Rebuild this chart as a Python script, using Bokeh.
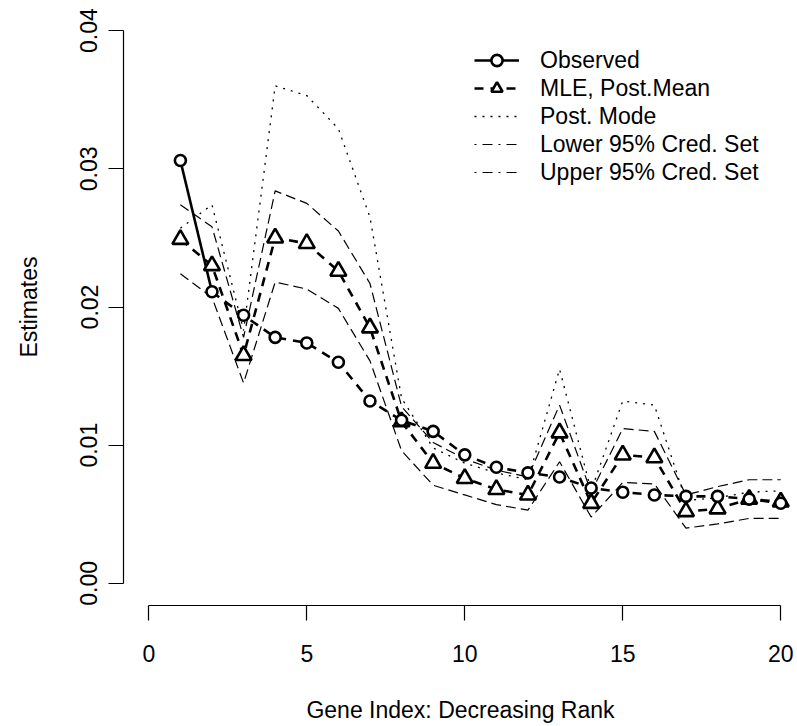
from bokeh.plotting import figure
from bokeh.models import Range1d, LinearAxis, FixedTicker, PrintfTickFormatter, Legend, LegendItem
from bokeh.embed import file_html
from bokeh.resources import INLINE

# ---- data ----
gene_index = list(range(1, 21))
observed = [0.0306, 0.0211, 0.0194, 0.0178, 0.0174, 0.0160, 0.0132, 0.0118, 0.0110, 0.0093,
            0.0084, 0.0080, 0.0077, 0.0069, 0.0066, 0.0064, 0.0063, 0.0063, 0.0061, 0.0058]
mle_post_mean = [0.0249, 0.0230, 0.0165, 0.0250, 0.0246, 0.0226, 0.0185, 0.0117, 0.0087, 0.0076,
                 0.0068, 0.0064, 0.0109, 0.0058, 0.0093, 0.0091, 0.0052, 0.0054, 0.0061, 0.0059]
post_mode = [0.0257, 0.0274, 0.0183, 0.0360, 0.0353, 0.0329, 0.0265, 0.0134, 0.0098, 0.0087,
             0.0080, 0.0075, 0.0155, 0.0067, 0.0132, 0.0129, 0.0060, 0.0062, 0.0066, 0.0067]
upper95 = [0.0274, 0.0258, 0.0178, 0.0284, 0.0275, 0.0255, 0.0217, 0.0128, 0.0102, 0.0090,
           0.0082, 0.0077, 0.0129, 0.0066, 0.0112, 0.0110, 0.0064, 0.0070, 0.0075, 0.0075]
lower95 = [0.0224, 0.0207, 0.0145, 0.0218, 0.0213, 0.0199, 0.0161, 0.0096, 0.0071, 0.0064,
           0.0057, 0.0053, 0.0088, 0.0048, 0.0073, 0.0072, 0.0040, 0.0043, 0.0047, 0.0047]

x_ticks = [0, 5, 10, 15, 20]
y_ticks = [0.00, 0.01, 0.02, 0.03, 0.04]
legend_labels = ["Observed", "MLE, Post.Mean", "Post. Mode", "Lower 95% Cred. Set", "Upper 95% Cred. Set"]

FONT = "Liberation Sans"
FS = "23px"

p = figure(width=797, height=726, output_backend="svg", toolbar_location=None,
           x_range=Range1d(-0.8, 20.53), y_range=Range1d(-0.0016, 0.0416),
           x_axis_type=None, y_axis_type=None,
           min_border_left=123, min_border_right=0, min_border_top=8, min_border_bottom=121)
p.outline_line_color = None
p.background_fill_color = "white"
p.border_fill_color = "white"

def style_axis(ax):
    ax.axis_line_color = "black"
    ax.axis_line_width = 1.2
    ax.major_tick_line_color = "black"
    ax.major_tick_line_width = 1.2
    ax.major_tick_in = 0
    ax.major_tick_out = 15
    ax.minor_tick_line_color = None
    ax.major_label_text_font = FONT
    ax.major_label_text_font_size = FS
    ax.major_label_text_color = "black"
    ax.axis_label_text_font = FONT
    ax.axis_label_text_font_size = FS
    ax.axis_label_text_font_style = "normal"
    ax.axis_label_text_color = "black"

xaxis = LinearAxis(ticker=FixedTicker(ticks=x_ticks), bounds=(0, 20),
                   axis_label="Gene Index: Decreasing Rank")
style_axis(xaxis)
xaxis.major_label_standoff = 24
xaxis.axis_label_standoff = 32
p.add_layout(xaxis, "below")

yaxis = LinearAxis(ticker=FixedTicker(ticks=y_ticks), bounds=(0, 0.04),
                   formatter=PrintfTickFormatter(format="%.2f"), axis_label="Estimates")
style_axis(yaxis)
yaxis.major_label_orientation = "parallel"
yaxis.major_label_standoff = 11
yaxis.axis_label_standoff = 36
p.add_layout(yaxis, "left")

# credible sets (long dash in the plot)
r_low = p.line(gene_index, lower95, line_color="black", line_width=1.2, line_dash="10 5")
r_up = p.line(gene_index, upper95, line_color="black", line_width=1.2, line_dash="10 5")
# posterior mode (dotted)
r_mode = p.line(gene_index, post_mode, line_color="black", line_width=1.3, line_dash="2 6")
# MLE / posterior mean
r_mle_line = p.line(gene_index, mle_post_mean, line_color="black", line_width=2.6, line_dash="9 7")
# observed: solid first segment, dashed afterwards
r_obs_line = p.line(gene_index[:2], observed[:2], line_color="black", line_width=2.6)
p.line(gene_index[1:], observed[1:], line_color="black", line_width=2.6, line_dash="9 7")

r_mle_pts = p.scatter(gene_index, mle_post_mean, marker="triangle", size=16, line_width=2.6,
                      line_color="black", fill_color="white")
r_obs_pts = p.scatter(gene_index, observed, marker="circle", size=11, line_width=2.6,
                      line_color="black", fill_color="white")

# legend samples for the credible sets (dot-dash in the legend); a single-point line draws nothing
leg_low = p.line(gene_index[:1], lower95[:1], line_color="black", line_width=1.2, line_dash="2 6 10 6")
leg_up = p.line(gene_index[:1], upper95[:1], line_color="black", line_width=1.2, line_dash="2 6 10 6")

legend = Legend(items=[
    LegendItem(label=legend_labels[0], renderers=[r_obs_line, r_obs_pts]),
    LegendItem(label=legend_labels[1], renderers=[r_mle_line, r_mle_pts]),
    LegendItem(label=legend_labels[2], renderers=[r_mode]),
    LegendItem(label=legend_labels[3], renderers=[leg_low]),
    LegendItem(label=legend_labels[4], renderers=[leg_up]),
], location=(351, 419))
legend.glyph_width = 45
legend.glyph_height = 28
legend.label_height = 28
legend.spacing = 0
legend.padding = 0
legend.margin = 0
legend.label_standoff = 21
legend.border_line_color = None
legend.background_fill_alpha = 0
legend.label_text_font = FONT
legend.label_text_font_size = FS
legend.label_text_color = "black"
p.add_layout(legend)

open("out.html", "w").write(file_html(p, INLINE))
